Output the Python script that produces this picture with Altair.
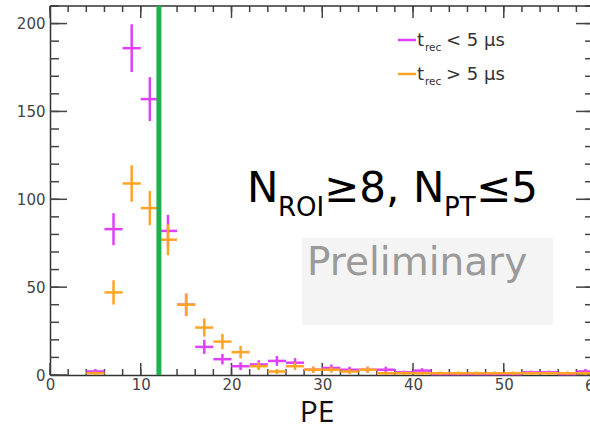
import altair as alt
import pandas as pd

# ---------------- data ----------------
bin_centers = [5, 7, 9, 11, 13, 15, 17, 19, 21, 23, 25, 27, 29, 31, 33, 35, 37,
               39, 41, 43, 45, 47, 49, 51, 53, 55, 57, 59]
bin_half = 1
n_fast = [2, 83, 186, 157, 82, 40, 16, 9, 5, 6, 8, 7, 3, 4, 3, 3, 3,
          1.5, 2.5, 0.5, 0.5, 0.5, 0.5, 0.5, 1.5, 1.5, 0.5, 2]
err_fast = [1.4, 9.1, 13.6, 12.5, 9.1, 6.3, 4.0, 3.0, 2.2, 2.4, 2.8, 2.6, 1.7, 2.0, 1.7, 1.7, 1.7,
            1.0, 1.4, 0, 0, 0, 0, 0, 1.0, 1.0, 0, 1.4]
n_slow = [1, 47, 109, 95, 77, 40, 27, 19, 13, 5, 2, 5, 3, 3, 2, 3, 1,
          1, 1, 1, 1, 1, 1, 1, 1, 1, 1, 1]
err_slow = [1.0, 6.9, 10.4, 9.7, 8.8, 6.3, 5.2, 4.4, 3.6, 2.2, 1.4, 2.2, 1.7, 1.7, 1.4, 1.7, 1.0,
            1.0, 1.0, 1.0, 1.0, 1.0, 1.0, 1.0, 1.0, 1.0, 1.0, 1.0]
series_names = ["fast", "slow"]
series_colors = ["#e040fb", "#ffa424"]
cut_pe = [12]

x_label_values = [0, 10, 20, 30, 40, 50]
x_edge_label = [60]
x_major_ticks = [0, 10, 20, 30, 40, 50, 60]
x_minor_ticks = list(range(0, 61, 2))
y_major_ticks = [0, 50, 100, 150, 200]
y_minor_ticks = list(range(0, 211, 10))

legend_sub = "rec"
legend_rest = ["< 5 µs", "> 5 µs"]
cut_text = ["N", "ROI", "≥8,", "N", "PT", "≤5"]
prelim_text = "Preliminary"
x_title = "PE"

# ---------------- layout ----------------
W, H = 540, 369
FONT = "DejaVu Sans"
xs = alt.Scale(domain=[0, 59.5], nice=False, zero=False)
ys = alt.Scale(domain=[0, 210], nice=False, zero=False)

AX = alt.Axis(values=x_label_values, ticks=False, tickSize=0,
              labelPadding=2, labelFont=FONT, labelFontSize=15, labelColor="#444",
              domainColor="#333", domainWidth=1.5, grid=False, title=None, labelFlush=False)
AY = alt.Axis(values=y_major_ticks, ticks=False, tickSize=0,
              labelPadding=5, labelFont=FONT, labelFontSize=15, labelColor="#444",
              domainColor="#333", domainWidth=1.5, grid=False, title=None, labelFlush=False)


def X(field):
    return alt.X(field, scale=xs, axis=AX)


def Y(field):
    return alt.Y(field, scale=ys, axis=AY)


def series_df(ns, es):
    return pd.DataFrame({
        "bin": bin_centers,
        "lo": [b - bin_half for b in bin_centers],
        "hi": [b + bin_half for b in bin_centers],
        "n": ns,
        "elo": [max(n - e, 0) for n, e in zip(ns, es)],
        "ehi": [n + e for n, e in zip(ns, es)],
    })


one = pd.DataFrame({"a": [0]})
layers = []

# axes carrier
layers.append(alt.Chart(pd.DataFrame({"x": [0], "y": [0]})).mark_point(opacity=0).encode(
    x=X("x:Q"), y=Y("y:Q")))


# tick marks (inward, ROOT style)
def xticks(vals, y0, y1):
    return alt.Chart(pd.DataFrame({"v": vals})).mark_rule(color="#444", strokeWidth=1.5).encode(
        x=X("v:Q"), y=alt.value(y0), y2=alt.value(y1))


def yticks(vals, x0, x1):
    return alt.Chart(pd.DataFrame({"v": vals})).mark_rule(color="#444", strokeWidth=1.5).encode(
        y=Y("v:Q"), x=alt.value(x0), x2=alt.value(x1))


layers += [
    xticks(x_minor_ticks, H, H - 6), xticks(x_major_ticks, H, H - 12),
    xticks(x_minor_ticks, 0, 6), xticks(x_major_ticks, 0, 12),
    yticks(y_minor_ticks, 0, 9), yticks(y_major_ticks, 0, 17),
    yticks(y_minor_ticks, 543, 535), yticks(y_major_ticks, 543, 526),
]
# top frame line
layers.append(alt.Chart(one).mark_rule(color="#333", strokeWidth=1.5).encode(
    x=alt.value(0), x2=alt.value(W + 5), y=alt.value(0)))

# label "60" at the clipped right edge
layers.append(alt.Chart(pd.DataFrame({"v": x_edge_label})).mark_text(
    font=FONT, fontSize=15, color="#444", baseline="top", align="center", dy=2).encode(
    x=X("v:Q"), y=alt.value(H + 2), text="v:Q"))

# histograms
for name, color, ns, es in [(series_names[0], series_colors[0], n_fast, err_fast),
                            (series_names[1], series_colors[1], n_slow, err_slow)]:
    df = series_df(ns, es)
    layers.append(alt.Chart(df).mark_rule(color=color, strokeWidth=2.5).encode(
        x=X("lo:Q"), x2="hi:Q", y=Y("n:Q")))
    layers.append(alt.Chart(df).mark_rule(color=color, strokeWidth=2.5).encode(
        x=X("bin:Q"), y=Y("elo:Q"), y2="ehi:Q"))

# cut line
layers.append(alt.Chart(pd.DataFrame({"pe": cut_pe})).mark_rule(color="#1fb050", strokeWidth=5).encode(
    x=X("pe:Q")))

# legend
for i, (color, rest) in enumerate(zip(series_colors, legend_rest)):
    yl = 34 + 34 * i
    layers.append(alt.Chart(one).mark_rule(color=color, strokeWidth=2.5).encode(
        x=alt.value(348), x2=alt.value(366), y=alt.value(yl)))
    layers.append(alt.Chart(one).mark_text(text="t", font=FONT, fontSize=18, color="#333",
        align="left", baseline="alphabetic").encode(x=alt.value(367), y=alt.value(yl + 6)))
    layers.append(alt.Chart(one).mark_text(text=legend_sub, font=FONT, fontSize=10.5, color="#333",
        align="left", baseline="alphabetic").encode(x=alt.value(375), y=alt.value(yl + 11)))
    layers.append(alt.Chart(one).mark_text(text=rest, font=FONT, fontSize=18, color="#333",
        align="left", baseline="alphabetic").encode(x=alt.value(396), y=alt.value(yl + 6)))

# cut annotation
cut_pos = [(197, 196, 42), (228, 210, 26), (274, 196, 42), (363, 196, 42), (394, 210, 26), (426, 196, 42)]
for txt, (px, py, fs) in zip(cut_text, cut_pos):
    layers.append(alt.Chart(one).mark_text(text=txt, font=FONT, fontSize=fs, color="#000",
        align="left", baseline="alphabetic").encode(x=alt.value(px), y=alt.value(py)))

# preliminary box
layers.append(alt.Chart(one).mark_rect(color="#f4f4f4").encode(
    x=alt.value(252), x2=alt.value(503), y=alt.value(232), y2=alt.value(319)))
layers.append(alt.Chart(one).mark_text(text=prelim_text, font=FONT, fontSize=39, color="#9a9a9a",
    align="left", baseline="alphabetic").encode(x=alt.value(257), y=alt.value(269)))

# x title
layers.append(alt.Chart(one).mark_text(text=x_title, font="Open Sans", fontSize=30, color="#111",
    align="center", baseline="alphabetic").encode(x=alt.value(267), y=alt.value(416)))

chart = alt.layer(*layers).properties(
    width=W, height=H,
    autosize=alt.AutoSizeParams(type="none"),
    padding={"left": 50, "top": 6, "right": 0, "bottom": 56},
    background="white",
).configure_view(stroke=None)

chart.save("out.html", embed_options={"renderer": "svg", "actions": False})
